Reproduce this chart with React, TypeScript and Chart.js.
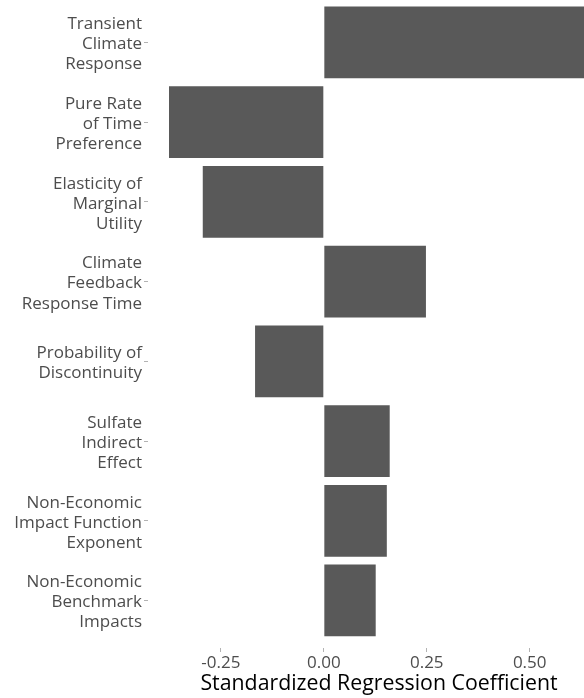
import React, { useEffect, useRef } from "react";
import { Chart, registerables } from "chart.js";

Chart.register(...registerables);

const categories: string[][] = [
  ["Transient", "Climate", "Response"],
  ["Pure Rate", "of Time", "Preference"],
  ["Elasticity of", "Marginal", "Utility"],
  ["Climate", "Feedback", "Response Time"],
  ["Probability of", "Discontinuity"],
  ["Sulfate", "Indirect", "Effect"],
  ["Non-Economic", "Impact Function", "Exponent"],
  ["Non-Economic", "Benchmark", "Impacts"],
];

const coefficients: number[] = [0.644, -0.376, -0.294, 0.248, -0.167, 0.16, 0.153, 0.126];

const xTicks: number[] = [-0.25, 0, 0.25, 0.5];

export default function App() {
  const ref = useRef<HTMLCanvasElement | null>(null);

  useEffect(() => {
    if (!ref.current) return;
    const points = coefficients.map((v, i) => ({ x: v, y: i }));
    const chart = new Chart(ref.current, {
      type: "bar",
      data: {
        datasets: [
          {
            data: points as any,
            backgroundColor: "#595959",
            borderWidth: 0,
            barPercentage: 0.9,
            categoryPercentage: 1.0,
          },
        ],
      },
      options: {
        indexAxis: "y",
        animation: false,
        responsive: true,
        maintainAspectRatio: false,
        layout: { padding: { top: 0, left: 0, right: 0, bottom: 0 } },
        plugins: { legend: { display: false }, tooltip: { enabled: false } },
        scales: {
          x: {
            type: "linear",
            min: -0.427,
            max: 0.695,
            afterBuildTicks: (scale: any) => {
              scale.ticks = xTicks.map((v) => ({ value: v }));
            },
            afterFit: (scale: any) => {
              scale.height = 50;
              scale.paddingLeft = 0;
              scale.paddingRight = 0;
            },
            grid: {
              drawOnChartArea: false,
              drawTicks: true,
              tickLength: 4,
              tickColor: "#b3b3b3",
            },
            border: { display: false },
            ticks: {
              color: "#4d4d4d",
              font: { family: "Open Sans", size: 17 },
              padding: 1,
              maxRotation: 0,
              callback: (v: any) => Number(v).toFixed(2),
            },
            title: {
              display: true,
              text: "Standardized Regression Coefficient",
              color: "#000000",
              font: { family: "Open Sans", size: 21.3 },
              padding: { top: 0, bottom: 1 },
            },
          },
          y: {
            type: "linear",
            reverse: true,
            offset: false,
            min: -0.533,
            max: 7.596,
            afterBuildTicks: (scale: any) => {
              scale.ticks = categories.map((_, i) => ({ value: i }));
            },
            afterFit: (scale: any) => {
              scale.width = 148;
              scale.paddingTop = 0;
              scale.paddingBottom = 0;
            },
            grid: {
              offset: false,
              drawOnChartArea: false,
              drawTicks: true,
              tickLength: 4,
              tickColor: "#b3b3b3",
            },
            border: { display: false },
            ticks: {
              color: "#4d4d4d",
              font: { family: "Open Sans", size: 17, lineHeight: 1.18 },
              padding: 2,
              labelOffset: 2,
              autoSkip: false,
              callback: (v: any) => categories[Math.round(Number(v))] ?? "",
            },
          },
        },
      },
    });
    return () => chart.destroy();
  }, []);

  return (
    <div
      style={{
        position: "fixed",
        left: 0,
        top: 0,
        width: 584,
        height: 698,
        overflow: "hidden",
        background: "#ffffff",
      }}
    >
      <div style={{ position: "relative", width: 610, height: 698 }}>
        <canvas ref={ref} />
      </div>
    </div>
  );
}
